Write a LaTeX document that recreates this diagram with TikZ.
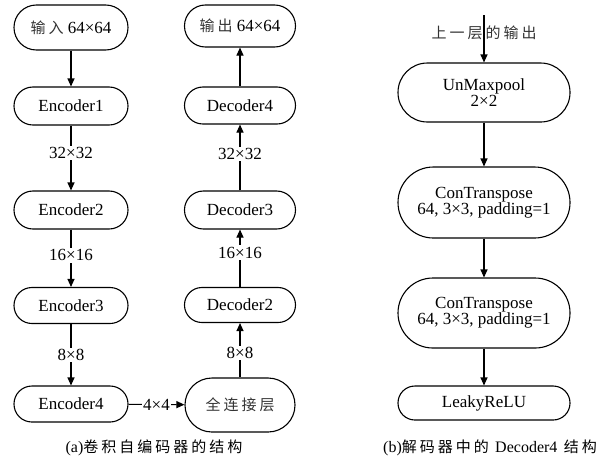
\documentclass[tikz,border=0pt]{standalone}
\usepackage{fontspec}
\setmainfont{Liberation Serif}
\newfontfamily\cjk[LetterSpace=20]{Noto Sans CJK SC}
\usetikzlibrary{arrows.meta}
\begin{document}
\begin{tikzpicture}[x=1pt,y=-1pt,
  font=\fontsize{17}{19}\selectfont,
  blk/.style args={#1/#2}{draw,line width=1.1pt,minimum width=#1,minimum height=#2,rounded corners=#2/2-0.1pt,inner sep=0pt,align=center},
  arr/.style={line width=1.1pt,-{Triangle[length=8pt,width=7pt]}},
  lab/.style={fill=white,inner sep=1.5pt},
  ck/.style={font=\fontsize{15}{18}\selectfont\cjk, text=black!80}
]
\useasboundingbox (0,0) rectangle (609,459);
% left column
\node[blk=114pt/45pt] (in) at (71,27.5) {{\cjk\fontsize{15}{18}\selectfont\color{black!80}输入} 64×64};
\node[blk=114pt/38pt] (e1) at (71,106) {Encoder1};
\node[blk=114pt/38pt] (e2) at (71,210) {Encoder2};
\node[blk=114pt/36pt] (e3) at (71,305.5) {Encoder3};
\node[blk=114pt/36pt] (e4) at (71,404) {Encoder4};
% middle column
\node[blk=111pt/42pt] (out) at (240,26) {{\cjk\fontsize{15}{18}\selectfont\color{black!80}输出} 64×64};
\node[blk=111pt/37pt] (d4) at (240,105.5) {Decoder4};
\node[blk=111pt/38pt] (d3) at (240,210) {Decoder3};
\node[blk=111pt/35pt] (d2) at (240,305) {Decoder2};
\node[blk=110pt/54pt,ck] (fc) at (240,405) {全连接层};
% right column
\node[ck] (prev) at (484,33) {上一层的输出};
\coordinate (top) at (484,15);
\node[blk=172pt/59pt] (um) at (484,92.5) {UnMaxpool\\[-3pt]2×2};
\node[blk=172pt/71pt] (ct1) at (484,202.5) {ConTranspose\\[-3pt]64, 3×3, padding=1};
\node[blk=172pt/70pt] (ct2) at (484,313) {ConTranspose\\[-3pt]64, 3×3, padding=1};
\node[blk=172pt/34pt] (lr) at (484,403) {LeakyReLU};
% arrows left
\draw[arr] (in) -- (e1);
\draw[arr] (e1) -- node[lab,pos=0.42] {32×32} (e2);
\draw[arr] (e2) -- node[lab,pos=0.45] {16×16} (e3);
\draw[arr] (e3) -- node[lab,pos=0.5] {8×8} (e4);
\draw[arr] (e4) -- node[lab] {4×4} (fc);
% arrows middle
\draw[arr] (fc) -- node[lab,pos=0.45] {8×8} (d2);
\draw[arr] (d2) -- node[lab,pos=0.6] {16×16} (d3);
\draw[arr] (d3) -- node[lab,pos=0.55] {32×32} (d4);
\draw[arr] (d4) -- (out);
% arrows right
\draw[arr] (top) -- (um);
\draw[arr] (um) -- (ct1);
\draw[arr] (ct1) -- (ct2);
\draw[arr] (ct2) -- (lr);
% captions
\node[ck,text=black] (capa) at (154,448) {{\rmfamily\fontsize{16}{18}\selectfont(a)}卷积自编码器的结构};
\node[ck,text=black] (capb) at (490,448) {{\rmfamily\fontsize{16}{18}\selectfont(b)}解码器中的 {\rmfamily\fontsize{16}{18}\selectfont Decoder4} 结构};
\end{tikzpicture}
\end{document}
